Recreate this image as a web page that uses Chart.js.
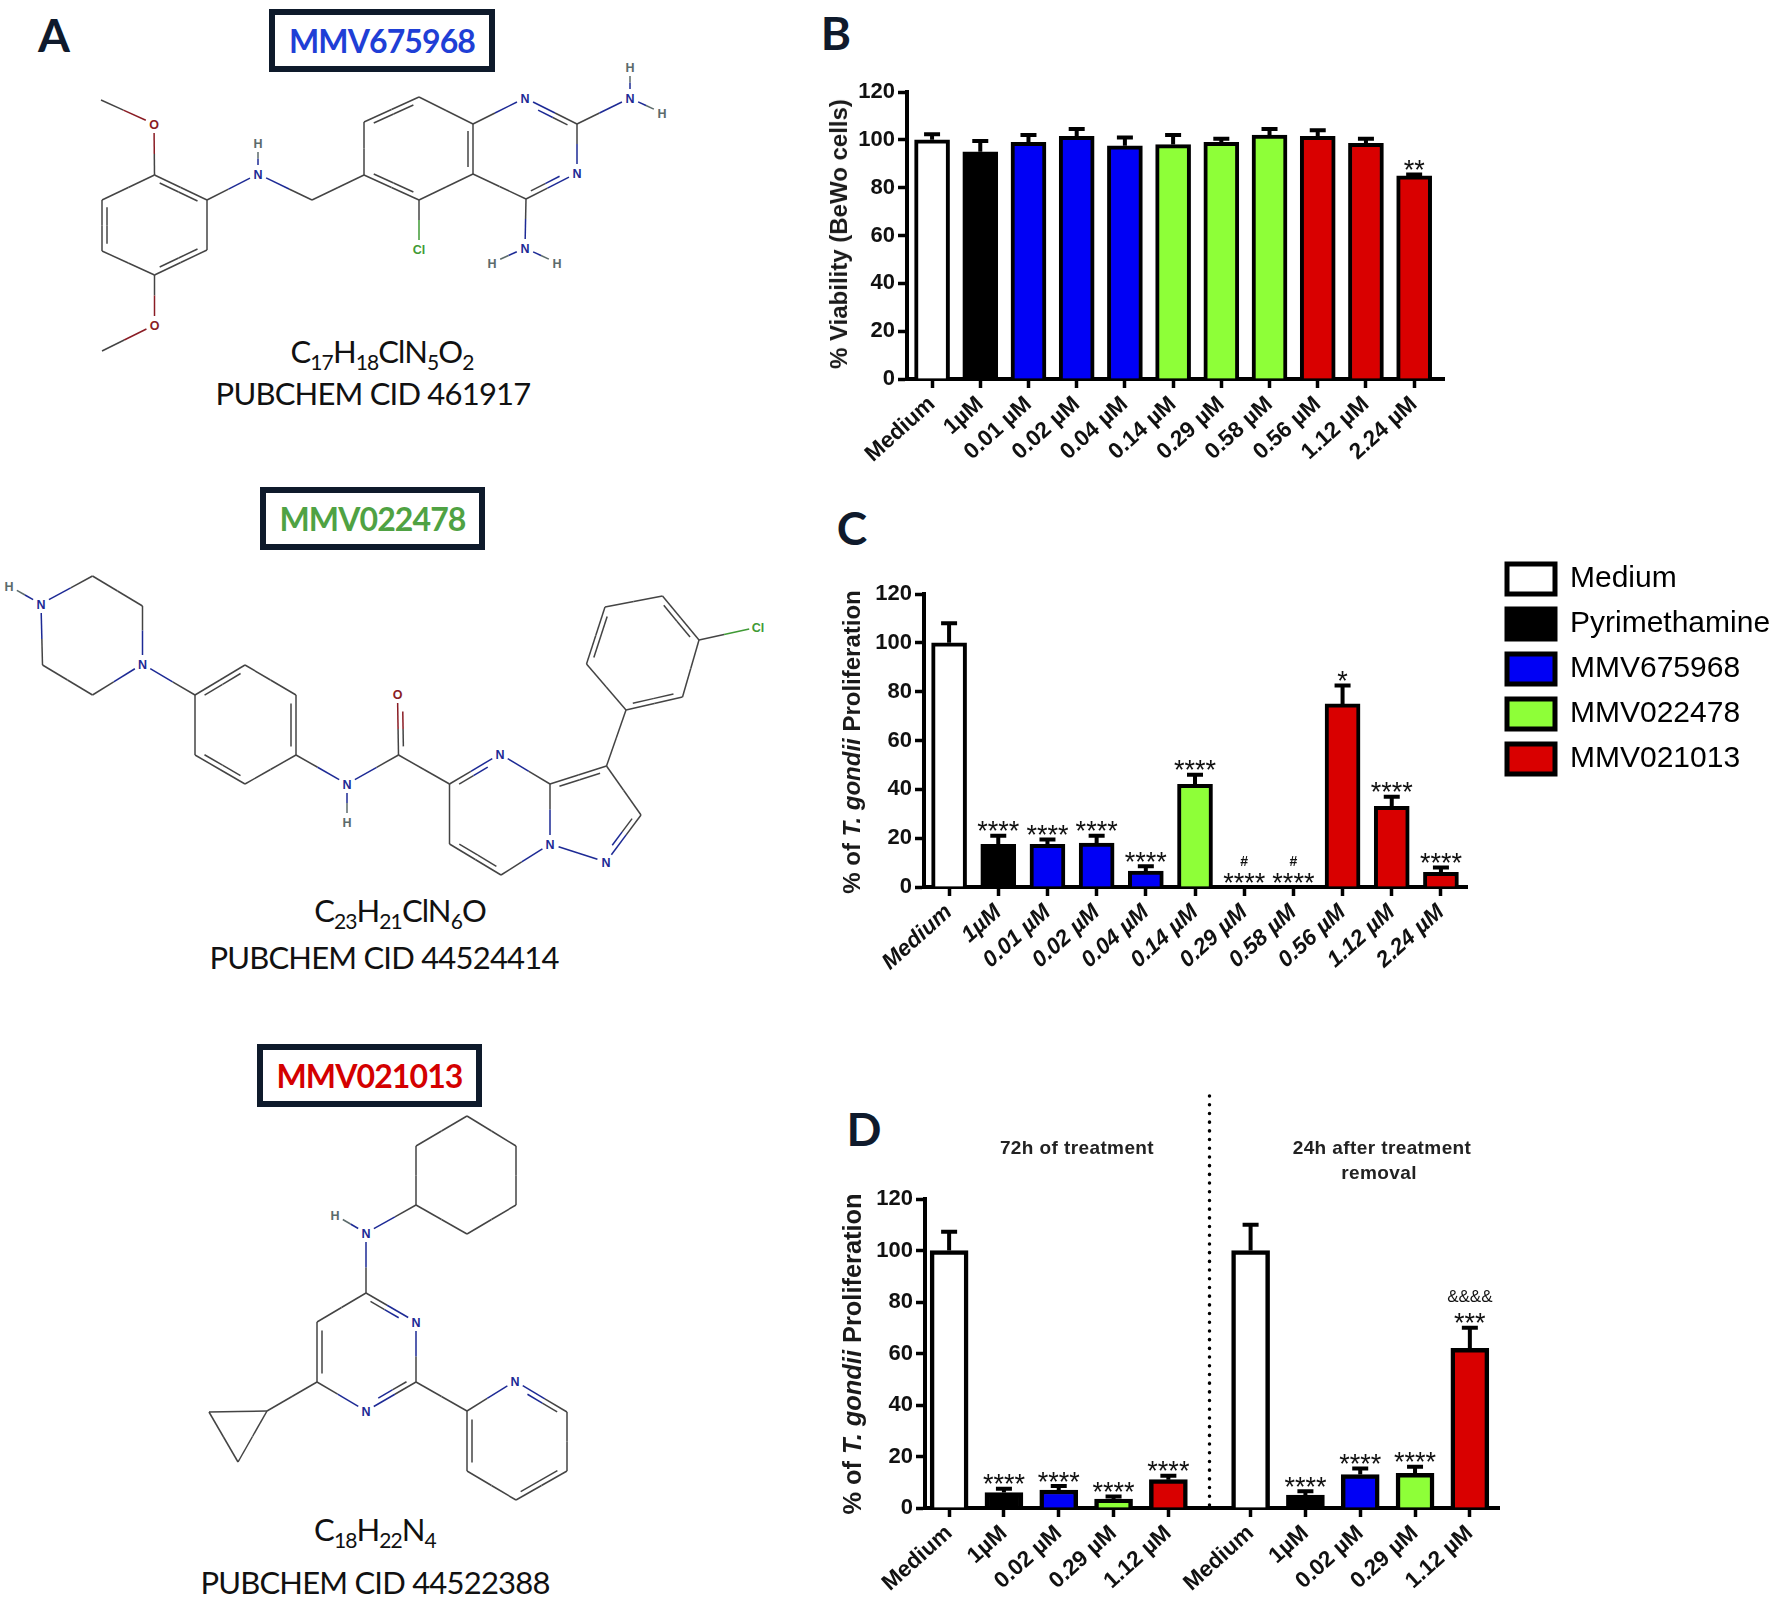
<!DOCTYPE html>
<html>
<head>
<meta charset="utf-8">
<title>MMV compounds</title>
<script src="https://cdn.jsdelivr.net/npm/chart.js@4"></script>
<style>
	html, body { margin: 0; background: #fff; }
	#page { position: relative; width: 1772px; height: 1603px; overflow: hidden; color: #111; }
	canvas { position: absolute; }
	#molecules { position: absolute; left: 0; top: 0; }
	.c { position: absolute; transform: translate(-50%, -50%); white-space: nowrap; }
	.letter { font: 700 46px Lato, sans-serif; color: #0f1a2c; }
	.idbox { position: absolute; box-sizing: border-box; border: 6px solid #0e1a2b; display: flex; align-items: center; justify-content: center; font: 700 32px Lato, sans-serif; letter-spacing: -0.9px; background: #fff; }
	.formula { font: 400 31px Lato, sans-serif; letter-spacing: -0.9px; }
	.formula sub { font-size: 21px; line-height: 0; vertical-align: -7px; }
	.cid { font: 400 31px Lato, sans-serif; letter-spacing: -0.8px; }
	.ytitle { font: 700 24px "Liberation Sans", sans-serif; color: #1a1a1a; }
	.head { font: 700 19px "Liberation Sans", sans-serif; color: #222; letter-spacing: 0.4px; }
</style>
</head>
<body>
<div id="page">
	<svg id="molecules" width="800" height="1603"></svg>

	<div class="c letter" style="left:54px;top:34px">A</div>
	<div class="c letter" style="left:836px;top:32px">B</div>
	<div class="c letter" style="left:852px;top:527px">C</div>
	<div class="c letter" style="left:864px;top:1128px">D</div>

	<div class="idbox" style="left:269px;top:9px;width:226px;height:63px;color:#1f3fd6">MMV675968</div>
	<div class="c formula" style="left:382px;top:351px">C<sub>17</sub>H<sub>18</sub>ClN<sub>5</sub>O<sub>2</sub></div>
	<div class="c cid" style="left:373px;top:393px">PUBCHEM CID 461917</div>

	<div class="idbox" style="left:260px;top:487px;width:225px;height:63px;color:#4fa243">MMV022478</div>
	<div class="c formula" style="left:400px;top:910px">C<sub>23</sub>H<sub>21</sub>ClN<sub>6</sub>O</div>
	<div class="c cid" style="left:384px;top:957px">PUBCHEM CID 44524414</div>

	<div class="idbox" style="left:257px;top:1044px;width:225px;height:63px;color:#d40000">MMV021013</div>
	<div class="c formula" style="left:375px;top:1529px">C<sub>18</sub>H<sub>22</sub>N<sub>4</sub></div>
	<div class="c cid" style="left:375px;top:1582px">PUBCHEM CID 44522388</div>

	<canvas id="chartB" width="625" height="430" style="left:820px;top:70px"></canvas>
	<canvas id="chartC" width="942" height="450" style="left:830px;top:550px"></canvas>
	<canvas id="chartD" width="670" height="513" style="left:830px;top:1090px"></canvas>

	<div class="c ytitle" style="left:839px;top:234px;transform:translate(-50%,-50%) rotate(-90deg)">% Viability (BeWo cells)</div>
	<div class="c ytitle" style="left:852px;top:742px;transform:translate(-50%,-50%) rotate(-90deg)">% of <i>T. gondii</i> Proliferation</div>
	<div class="c ytitle" style="left:852px;top:1354px;transform:translate(-50%,-50%) rotate(-90deg);font-size:25.4px">% of <i>T. gondii</i> Proliferation</div>

	<div class="c head" style="left:1077px;top:1148px">72h of treatment</div>
	<div class="c head" style="left:1382px;top:1148px">24h after treatment</div>
	<div class="c head" style="left:1379px;top:1173px">removal</div>
</div>

<script>
const WHITE = "#ffffff";
const BLACK = "#000000";
const BLUE = "#0000f5";
const GREEN = "#8eff38";
const RED = "#d90000";

const legendNames = ["Medium", "Pyrimethamine", "MMV675968", "MMV022478", "MMV021013"];
const legendColors = [WHITE, BLACK, BLUE, GREEN, RED];

const labelsB = ["Medium", "1µM", "0.01 µM", "0.02 µM", "0.04 µM", "0.14 µM", "0.29 µM", "0.58 µM", "0.56 µM", "1.12 µM", "2.24 µM"];
const valuesB = [100, 95, 99, 101.5, 97.5, 98, 99, 102, 101.5, 98.5, 85];
const errorsB = [2.3, 4.5, 3, 3, 3.5, 4, 1.5, 2.5, 2.5, 2, 0.5];
const colorsB = [WHITE, BLACK, BLUE, BLUE, BLUE, GREEN, GREEN, GREEN, RED, RED, RED];
const marksB = ["", "", "", "", "", "", "", "", "", "", "**"];
const upperMarksB = ["", "", "", "", "", "", "", "", "", "", ""];

const labelsC = ["Medium", "1µM", "0.01 µM", "0.02 µM", "0.04 µM", "0.14 µM", "0.29 µM", "0.58 µM", "0.56 µM", "1.12 µM", "2.24 µM"];
const valuesC = [100, 17.5, 17.5, 18, 6.5, 42, 0, 0, 75, 33, 6];
const errorsC = [8, 3.5, 2, 3, 2, 4, 0, 0, 7.5, 4, 2];
const colorsC = [WHITE, BLACK, BLUE, BLUE, BLUE, GREEN, GREEN, GREEN, RED, RED, RED];
const marksC = ["", "****", "****", "****", "****", "****", "****", "****", "*", "****", "****"];
const upperMarksC = ["", "", "", "", "", "", "#", "#", "", "", ""];

const labelsD = ["Medium", "1µM", "0.02 µM", "0.29 µM", "1.12 µM", "Medium", "1µM", "0.02 µM", "0.29 µM", "1.12 µM"];
const slotsD = [0, 1, 2, 3, 4, 5.5, 6.5, 7.5, 8.5, 9.5];
const valuesD = [100, 6, 7, 3.5, 11, 100, 5, 13, 13.5, 62];
const errorsD = [7.3, 1.5, 1.5, 1, 1.5, 10, 1.5, 2.3, 2.5, 8];
const colorsD = [WHITE, BLACK, BLUE, GREEN, RED, WHITE, BLACK, BLUE, GREEN, RED];
const marksD = ["", "****", "****", "****", "****", "", "****", "****", "****", "***"];
const upperMarksD = ["", "", "", "", "", "", "", "", "", "&&&&"];

const yTicks = { min: 0, max: 120, step: 20 };

// error bars, significance marks and the dotted divider
const barMarks = {
	id: "barMarks",
	afterDatasetsDraw(chart, args, opts) {
		const ctx = chart.ctx;
		const y = chart.scales.y;
		const bars = chart.getDatasetMeta(0).data;

		ctx.save();
		ctx.fillStyle = "#111";
		ctx.strokeStyle = BLACK;
		ctx.textAlign = "center";
		ctx.textBaseline = "alphabetic";

		bars.forEach(function (bar, i) {
			const top = y.getPixelForValue(opts.values[i] + opts.errors[i]);

			if (opts.errors[i] > 0) {
				ctx.lineWidth = 4;
				ctx.beginPath();
				ctx.moveTo(bar.x, y.getPixelForValue(opts.values[i]));
				ctx.lineTo(bar.x, top);
				ctx.moveTo(bar.x - 8, top);
				ctx.lineTo(bar.x + 8, top);
				ctx.stroke();
			}

			if (opts.marks[i]) {
				ctx.font = '27px "Liberation Sans"';
				ctx.fillText(opts.marks[i], bar.x, top + 4.5);
			}
			if (opts.upperMarks[i]) {
				const amp = opts.upperMarks[i] !== "#";
				ctx.font = amp ? '17px "Liberation Sans"' : 'bold 14px "Liberation Sans"';
				ctx.fillText(opts.upperMarks[i], bar.x, top - (amp ? 26 : 21));
			}
		});

		if (opts.dividerAt !== undefined) {
			const x = chart.scales.x.getPixelForValue(opts.dividerAt);
			ctx.lineWidth = 3.5;
			ctx.lineCap = "round";
			ctx.setLineDash([0.1, 8.6]);
			ctx.beginPath();
			ctx.moveTo(x, 6);
			ctx.lineTo(x, y.getPixelForValue(0));
			ctx.stroke();
		}
		ctx.restore();
	},
	afterLayout(chart, args, opts) {
		if (opts.legendLeft !== undefined) {
			chart.legend.top = -1;
			chart.legend.left = opts.legendLeft;
		}
	}
};

function panelChart(id, p) {
	const slots = p.slots || p.labels.map((_, i) => i);
	const tickFont = { family: "Liberation Sans", size: 22.5, weight: "bold", style: p.italic ? "italic" : "normal" };
	const scales = {
		x: {
			type: "linear",
			offset: false,
			min: p.xMin,
			max: p.xMax,
			afterBuildTicks: function (scale) {
				scale.ticks = slots.map(v => ({ value: v }));
			},
			afterFit: function (scale) {
				scale.height = p.labelRoom;
			},
			ticks: {
				autoSkip: false,
				minRotation: 42,
				maxRotation: 42,
				padding: 3,
				color: "#111",
				font: tickFont,
				callback: function (value, index) {
					return p.labels[index];
				}
			},
			grid: { offset: false, drawOnChartArea: false, tickLength: 9, tickWidth: 3.5, tickColor: BLACK },
			border: { color: BLACK, width: 4 }
		},
		y: {
			min: yTicks.min,
			max: yTicks.max,
			afterFit: function (scale) {
				scale.width = p.axisWidth;
			},
			ticks: {
				stepSize: yTicks.step,
				padding: 3,
				color: "#111",
				font: { family: "Liberation Sans", size: 22, weight: "bold" }
			},
			grid: { drawOnChartArea: false, tickLength: 9, tickWidth: 3.5, tickColor: BLACK },
			border: { color: BLACK, width: 4 }
		}
	};

	if (p.spacer) {
		scales.ySpacer = {
			position: "right",
			display: true,
			grid: { display: false },
			border: { display: false },
			ticks: { display: false },
			afterFit: function (scale) {
				scale.width = p.spacer;
			}
		};
	}

	new Chart(document.getElementById(id), {
		type: "bar",
		data: {
			datasets: [{
				data: p.values.map((v, i) => ({ x: slots[i], y: v })),
				backgroundColor: p.colors,
				borderColor: BLACK,
				borderWidth: p.barBorder,
				barThickness: p.barWidth
			}]
		},
		plugins: [barMarks],
		options: {
			responsive: false,
			animation: false,
			devicePixelRatio: 1,
			layout: { padding: { top: p.top } },
			scales: scales,
			plugins: {
				tooltip: { enabled: false },
				legend: p.legend ? {
					display: true,
					position: "right",
					align: "start",
					labels: {
						boxWidth: 48,
						boxHeight: 30,
						padding: 15,
						color: "#111",
						font: { family: "Liberation Sans", size: 30 },
						generateLabels: function () {
							return legendNames.map((name, i) => ({
								text: name,
								fillStyle: legendColors[i],
								strokeStyle: BLACK,
								lineWidth: 5
							}));
						}
					}
				} : { display: false },
				barMarks: {
					values: p.values,
					errors: p.errors,
					marks: p.marks,
					upperMarks: p.upperMarks,
					dividerAt: p.dividerAt,
					legendLeft: p.legendLeft
				}
			}
		}
	});
}

panelChart("chartB", {
	labels: labelsB, values: valuesB, errors: errorsB, colors: colorsB, marks: marksB, upperMarks: upperMarksB,
	top: 22, axisWidth: 87, labelRoom: 121, xMin: -0.52, xMax: 10.64, barWidth: 35, barBorder: 4
});

panelChart("chartC", {
	labels: labelsC, values: valuesC, errors: errorsC, colors: colorsC, marks: marksC, upperMarks: upperMarksC,
	top: 44, axisWidth: 94, labelRoom: 113, xMin: -0.51, xMax: 10.53, barWidth: 35, barBorder: 4,
	italic: true, legend: true, spacer: 148, legendLeft: 662
});

panelChart("chartD", {
	labels: labelsD, slots: slotsD, values: valuesD, errors: errorsD, colors: colorsD, marks: marksD, upperMarks: upperMarksD,
	top: 109, axisWidth: 95, labelRoom: 95, xMin: -0.44, xMax: 10.05, barWidth: 38, barBorder: 4.5, dividerAt: 4.75
});

// compound structures, drawn as plain svg next to the charts
const ATOM_COLORS = { N: "#1d2a95", O: "#8a1c24", Cl: "#3f9a35", H: "#5c6b6b" };

const molecule1 = {
	atoms: {
		me1: [101, 100], o1: [154, 124, "O"], a2: [154.5, 175], a1: [207, 200], a6: [207, 250], a5: [154.5, 275], a4: [102, 251], a3: [102, 200],
		o2: [154.5, 325, "O"], me2: [102, 351], n1: [258, 174, "N"], h1: [258, 143, "H"], ch2: [312, 200],
		b6: [364, 175], b7: [364, 122], b8: [419, 97], b9: [473, 124], b10: [473, 174], b5: [419, 200], cl: [419, 249, "Cl"],
		n2: [525, 98, "N"], c2: [577, 124], n3: [577, 173, "N"], c4: [526, 199],
		n4: [525, 248, "N"], h2: [492, 263, "H"], h3: [557, 263, "H"], n5: [630, 98, "N"], h4: [630, 67, "H"], h5: [662, 113, "H"]
	},
	bonds: [
		["me1", "o1"], ["o1", "a2"], ["a2", "a1", 2, "a5"], ["a1", "a6"], ["a6", "a5", 2, "a2"], ["a5", "a4"], ["a4", "a3", 2, "a1"], ["a3", "a2"],
		["a5", "o2"], ["o2", "me2"], ["a1", "n1"], ["n1", "h1"], ["n1", "ch2"], ["ch2", "b6"],
		["b6", "b7"], ["b7", "b8", 2, "b5"], ["b8", "b9"], ["b9", "b10", 2, "b7"], ["b10", "b5"], ["b5", "b6", 2, "b8"], ["b5", "cl"],
		["b9", "n2"], ["n2", "c2", 2, "c4"], ["c2", "n3"], ["n3", "c4", 2, "c2"], ["c4", "b10"],
		["c4", "n4"], ["n4", "h2"], ["n4", "h3"], ["c2", "n5"], ["n5", "h4"], ["n5", "h5"]
	]
};

const molecule2 = {
	atoms: {
		h1: [9, 586, "H"], n1: [41, 604, "N"], p1: [92.5, 576], p2: [142.5, 606], n2: [142.5, 664, "N"], p3: [92.5, 695], p4: [42.5, 665],
		c1: [195, 695], c2: [245, 665], c3: [296, 695], c4: [296, 755], c5: [245, 784], c6: [195, 755],
		n3: [347, 784, "N"], h2: [347, 822, "H"], co: [398.5, 755], o1: [397.5, 694, "O"],
		d5: [449.5, 784], n4: [500, 754, "N"], d3: [550, 784], n5: [550, 844, "N"], d7: [501, 875], d6: [449.5, 844],
		e3: [606.5, 766], e2: [641, 815], n6: [606, 862, "N"],
		f1: [626, 710], f2: [682.5, 697], f3: [699, 640], f4: [662.5, 596], f5: [605, 607], f6: [586.5, 664], cl: [758, 627, "Cl"]
	},
	bonds: [
		["h1", "n1"], ["n1", "p1"], ["p1", "p2"], ["p2", "n2"], ["n2", "p3"], ["p3", "p4"], ["p4", "n1"], ["n2", "c1"],
		["c1", "c2", 2, "c4"], ["c2", "c3"], ["c3", "c4", 2, "c1"], ["c4", "c5"], ["c5", "c6", 2, "c2"], ["c6", "c1"],
		["c4", "n3"], ["n3", "h2"], ["n3", "co"], ["co", "o1", 2, "d5"], ["co", "d5"],
		["d5", "n4", 2, "d3"], ["n4", "d3"], ["d3", "n5"], ["n5", "d7"], ["d7", "d6", 2, "n4"], ["d6", "d5"],
		["d3", "e3", 2, "e2"], ["e3", "e2"], ["e2", "n6", 2, "d3"], ["n6", "n5"], ["e3", "f1"],
		["f1", "f2", 2, "f4"], ["f2", "f3"], ["f3", "f4", 2, "f1"], ["f4", "f5"], ["f5", "f6", 2, "f2"], ["f6", "f1"], ["f3", "cl"]
	]
};

const molecule3 = {
	atoms: {
		r1: [467, 1116], r2: [516, 1146], r3: [516, 1205], r4: [467, 1234], r5: [416, 1205], r6: [416, 1146],
		n1: [366, 1233, "N"], h1: [335, 1215, "H"],
		c4: [366, 1293], n3: [416, 1322, "N"], c2: [416, 1382], n2: [366, 1411, "N"], c6: [317, 1382], c5: [317, 1322],
		t1: [267, 1411], t2: [209, 1412], t3: [238, 1462],
		y2: [467, 1411], y1: [515, 1381, "N"], y6: [567, 1412], y5: [567, 1471], y4: [516, 1500], y3: [467, 1471]
	},
	bonds: [
		["r1", "r2"], ["r2", "r3"], ["r3", "r4"], ["r4", "r5"], ["r5", "r6"], ["r6", "r1"], ["r5", "n1"], ["n1", "h1"], ["n1", "c4"],
		["c4", "n3", 2, "c5"], ["n3", "c2"], ["c2", "n2", 2, "c4"], ["n2", "c6"], ["c6", "c5", 2, "c2"], ["c5", "c4"],
		["c6", "t1"], ["t1", "t2"], ["t2", "t3"], ["t3", "t1"], ["c2", "y2"],
		["y2", "y1"], ["y1", "y6", 2, "y3"], ["y6", "y5"], ["y5", "y4", 2, "y2"], ["y4", "y3"], ["y3", "y2", 2, "y6"]
	]
};

function drawMolecule(mol) {
	const svg = document.getElementById("molecules");
	const NS = "http://www.w3.org/2000/svg";

	function segment(x1, y1, x2, y2, color) {
		const line = document.createElementNS(NS, "line");
		line.setAttribute("x1", x1);
		line.setAttribute("y1", y1);
		line.setAttribute("x2", x2);
		line.setAttribute("y2", y2);
		line.setAttribute("stroke", color);
		line.setAttribute("stroke-width", "1.5");
		svg.appendChild(line);
	}

	function halves(x1, y1, x2, y2, colorA, colorB) {
		const mx = (x1 + x2) / 2;
		const my = (y1 + y2) / 2;
		segment(x1, y1, mx, my, colorA);
		segment(mx, my, x2, y2, colorB);
	}

	mol.bonds.forEach(function (b) {
		const A = mol.atoms[b[0]];
		const B = mol.atoms[b[1]];
		const len = Math.hypot(B[0] - A[0], B[1] - A[1]);
		const ux = (B[0] - A[0]) / len;
		const uy = (B[1] - A[1]) / len;
		const trimA = A[2] ? 9 : 0;
		const trimB = B[2] ? 9 : 0;
		const ax = A[0] + ux * trimA;
		const ay = A[1] + uy * trimA;
		const bx = B[0] - ux * trimB;
		const by = B[1] - uy * trimB;
		const colorA = ATOM_COLORS[A[2]] || "#444";
		const colorB = ATOM_COLORS[B[2]] || "#444";

		halves(ax, ay, bx, by, colorA, colorB);

		if (b[2] === 2) {
			const T = mol.atoms[b[3]];
			const side = (T[0] - A[0]) * -uy + (T[1] - A[1]) * ux > 0 ? 1 : -1;
			const ox = -uy * side * 5;
			const oy = ux * side * 5;
			const cut = 0.14 * len;
			halves(ax + ux * cut + ox, ay + uy * cut + oy, bx - ux * cut + ox, by - uy * cut + oy, colorA, colorB);
		}
	});

	Object.values(mol.atoms).forEach(function (atom) {
		if (!atom[2]) return;
		const label = document.createElementNS(NS, "text");
		label.setAttribute("x", atom[0]);
		label.setAttribute("y", atom[1] + 4.5);
		label.setAttribute("text-anchor", "middle");
		label.setAttribute("font-family", "Liberation Sans");
		label.setAttribute("font-size", "12.5");
		label.setAttribute("font-weight", "bold");
		label.setAttribute("fill", ATOM_COLORS[atom[2]]);
		label.textContent = atom[2];
		svg.appendChild(label);
	});
}

drawMolecule(molecule1);
drawMolecule(molecule2);
drawMolecule(molecule3);
</script>
</body>
</html>
